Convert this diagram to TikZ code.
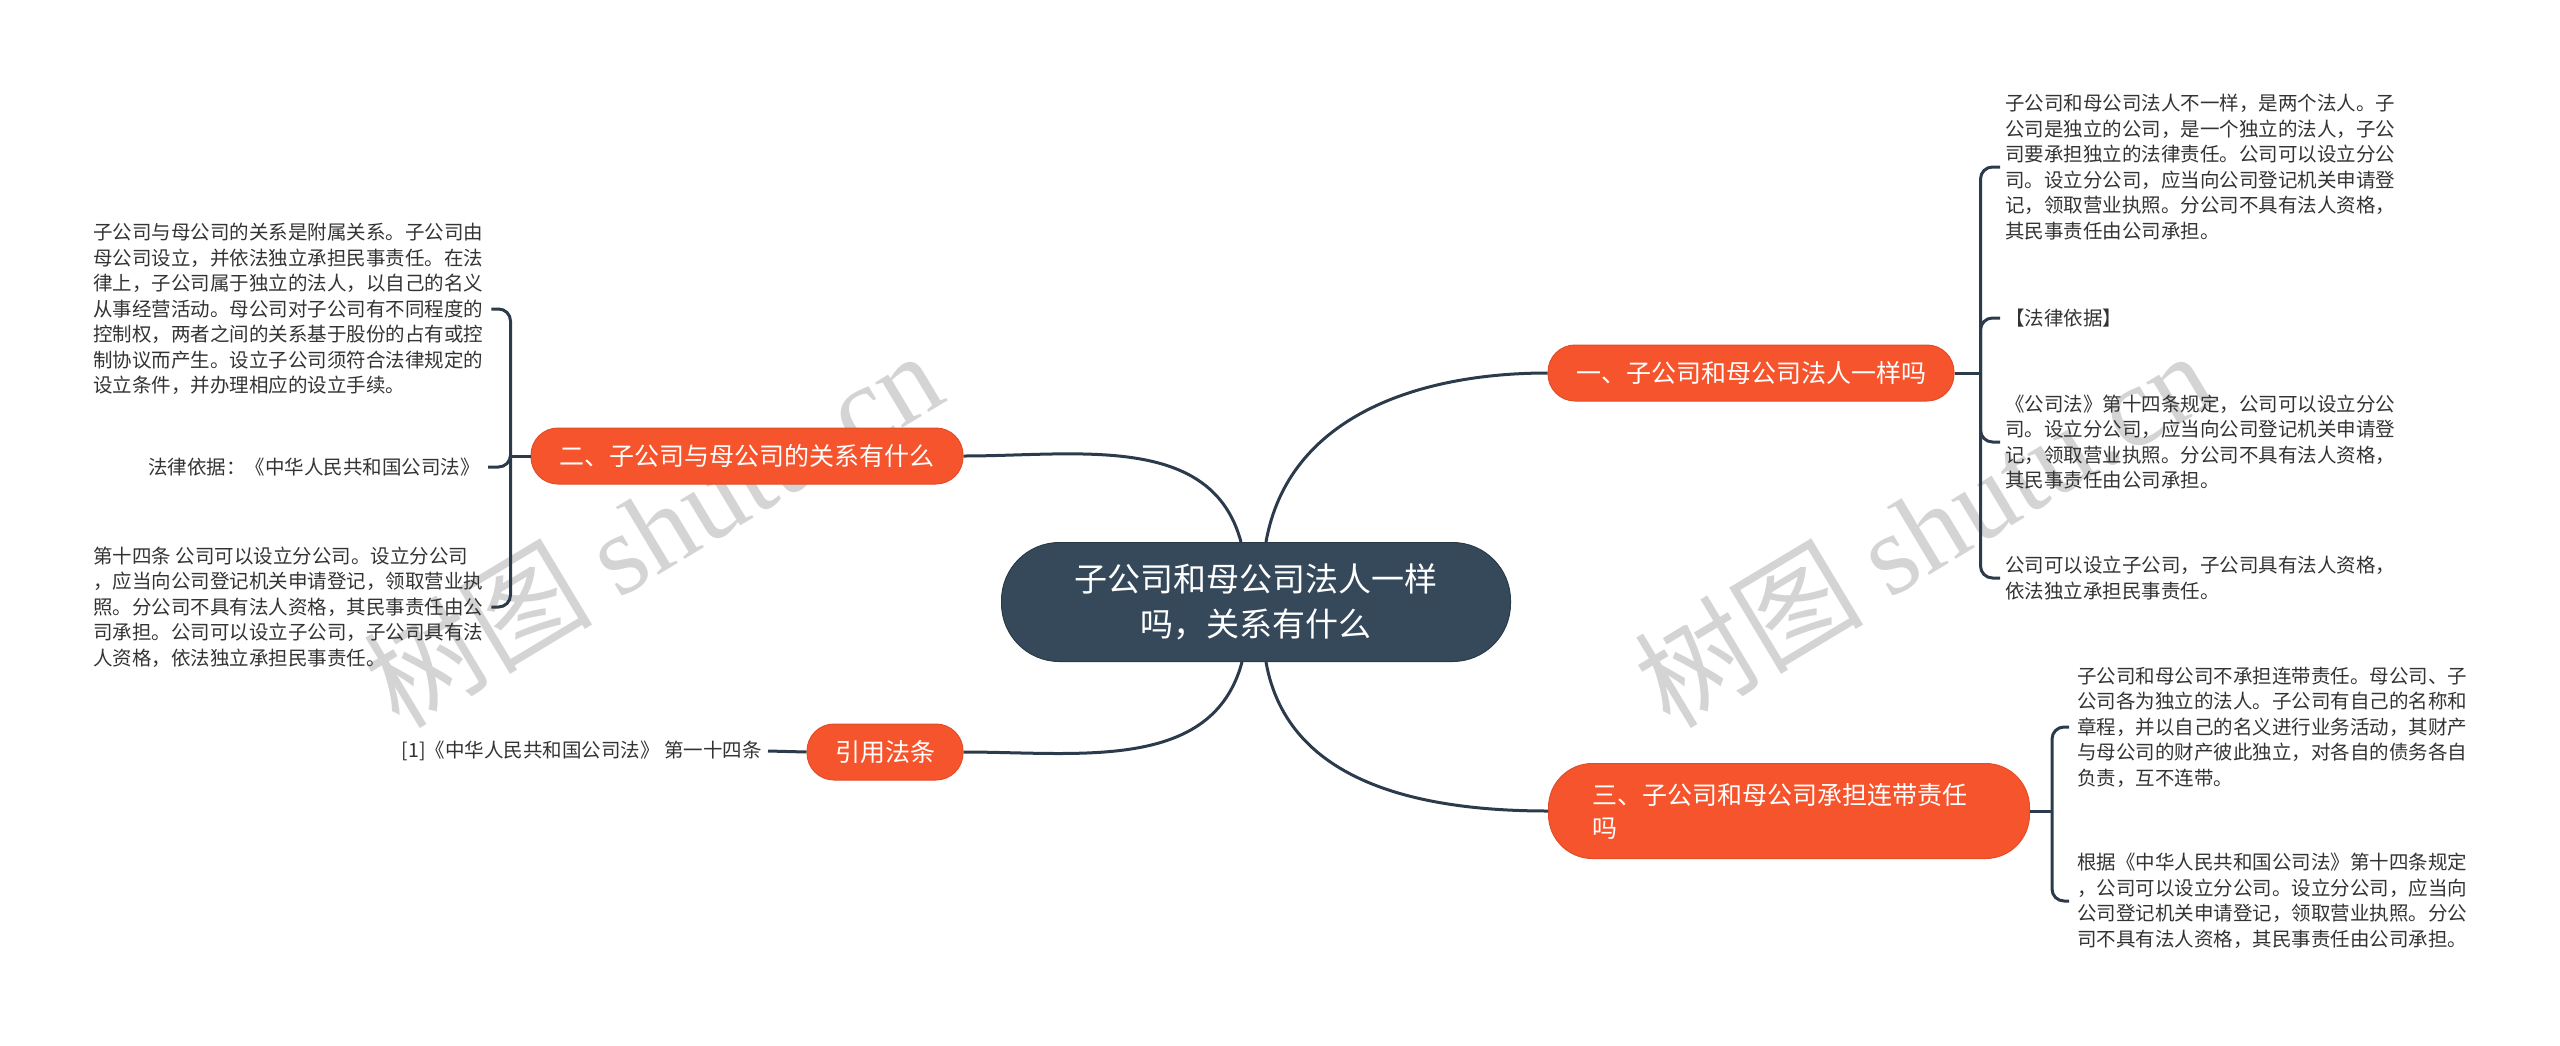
\documentclass[tikz,border=0pt]{standalone}
\usepackage{fontspec}
\setmainfont{Noto Sans CJK SC}
\newfontfamily\wmlatin{Liberation Serif}
\usetikzlibrary{calc}

\definecolor{rootfill}{HTML}{36495A}
\definecolor{topicfill}{HTML}{F5542C}
\definecolor{linkcol}{HTML}{2C3B4B}
\definecolor{leaftext}{HTML}{333333}

\begin{document}
\begin{tikzpicture}[x=1pt, y=-1pt,
  link/.style={draw=linkcol, line width=3pt},
  brace/.style={link, rounded corners=12pt},
  root/.style={fill=rootfill, draw=rootfill!80!black, line width=1pt, text=white, rounded corners=58pt, minimum width=509pt, minimum height=119pt, align=center, font=\fontsize{33}{45}\selectfont},
  topic/.style={fill=topicfill, draw=topicfill!92!black, line width=1pt, text=white, rounded corners=27pt, minimum height=56pt, font=\fontsize{25}{33}\selectfont},
  leaf/.style={text=leaftext, inner sep=0pt, align=left, font=\fontsize{19.5}{25.5}\selectfont},
  wmark/.style={text=black!17, rotate=31, font=\fontsize{115}{115}\selectfont}]
\useasboundingbox (0, 0) rectangle (2560, 1045);

% watermark, behind everything
\node [wmark] (wm1) at (652, 528) {树图 {\wmlatin shutu.cn}};
\node [wmark] (wm2) at (1923, 528) {树图 {\wmlatin shutu.cn}};

\node [root] (root) at (1256, 602) {子公司和母公司法人一样\\吗，关系有什么};

\node [topic, minimum width=406pt] (b1) at (1751, 373) {一、子公司和母公司法人一样吗};
\node [topic, minimum width=432pt] (b2) at (747, 456) {二、子公司与母公司的关系有什么};
\node [topic, minimum width=156pt] (b3) at (885, 752) {引用法条};
\node [topic, minimum width=481pt, minimum height=95pt, rounded corners=44pt, text width=393pt, align=left] (b4) at (1789, 811) {三、子公司和母公司承担连带责任\\吗};

\node [leaf, anchor=west] (l1a) at (2005, 167) {子公司和母公司法人不一样，是两个法人。子\\公司是独立的公司，是一个独立的法人，子公\\司要承担独立的法律责任。公司可以设立分公\\司。设立分公司，应当向公司登记机关申请登\\记，领取营业执照。分公司不具有法人资格，\\其民事责任由公司承担。};
\node [leaf, anchor=west] (l1b) at (2005, 318) {【法律依据】};
\node [leaf, anchor=west] (l1c) at (2005, 442) {《公司法》第十四条规定，公司可以设立分公\\司。设立分公司，应当向公司登记机关申请登\\记，领取营业执照。分公司不具有法人资格，\\其民事责任由公司承担。};
\node [leaf, anchor=west] (l1d) at (2005, 578) {公司可以设立子公司，子公司具有法人资格，\\依法独立承担民事责任。};

\node [leaf, anchor=west] (l2a) at (93, 309) {子公司与母公司的关系是附属关系。子公司由\\母公司设立，并依法独立承担民事责任。在法\\律上，子公司属于独立的法人，以自己的名义\\从事经营活动。母公司对子公司有不同程度的\\控制权，两者之间的关系基于股份的占有或控\\制协议而产生。设立子公司须符合法律规定的\\设立条件，并办理相应的设立手续。};
\node [leaf, anchor=east] (l2b) at (480, 467) {法律依据：《中华人民共和国公司法》};
\node [leaf, anchor=west] (l2c) at (93, 607) {第十四条 公司可以设立分公司。设立分公司\\，应当向公司登记机关申请登记，领取营业执\\照。分公司不具有法人资格，其民事责任由公\\司承担。公司可以设立子公司，子公司具有法\\人资格，依法独立承担民事责任。};

\node [leaf, anchor=east] (l3) at (762, 751) {[1]《中华人民共和国公司法》 第一十四条};

\node [leaf, anchor=west] (l4a) at (2077, 727) {子公司和母公司不承担连带责任。母公司、子\\公司各为独立的法人。子公司有自己的名称和\\章程，并以自己的名义进行业务活动，其财产\\与母公司的财产彼此独立，对各自的债务各自\\负责，互不连带。};
\node [leaf, anchor=west] (l4b) at (2077, 901) {根据《中华人民共和国公司法》第十四条规定\\，公司可以设立分公司。设立分公司，应当向\\公司登记机关申请登记，领取营业执照。分公\\司不具有法人资格，其民事责任由公司承担。};

% main branches
\draw [link] ([xshift=10]root.north) to[out=80, in=180] (b1.west);
\draw [link] (b2.east) to[out=0, in=105] ([xshift=-15]root.north);
\draw [link] (b3.east) to[out=0, in=-105] ([xshift=-14]root.south);
\draw [link] ([xshift=10]root.south) to[out=-80, in=180] (b4.west);

% leaf braces
\coordinate (s1) at ($(b1.east)+(26, 0)$);
\coordinate (s2) at ($(b2.west)+(-20, 0)$);
\coordinate (s4) at ($(b4.east)+(22, 0)$);
\draw [link] (b1.east) -- (s1);
\draw [link] (b2.west) -- (s2);
\draw [link] (b4.east) -- (s4);
\foreach \n in {l1a, l1b, l1c, l1d}
  \draw [brace] (s1) |- ([xshift=-5]\n.west);
\foreach \n in {l2a, l2b, l2c}
  \draw [brace] (s2) |- ([xshift=8]\n.east);
\foreach \n in {l4a, l4b}
  \draw [brace] (s4) |- ([xshift=-8]\n.west);
\draw [link] ([xshift=6]l3.east) -- (b3.west);
\end{tikzpicture}
\end{document}
